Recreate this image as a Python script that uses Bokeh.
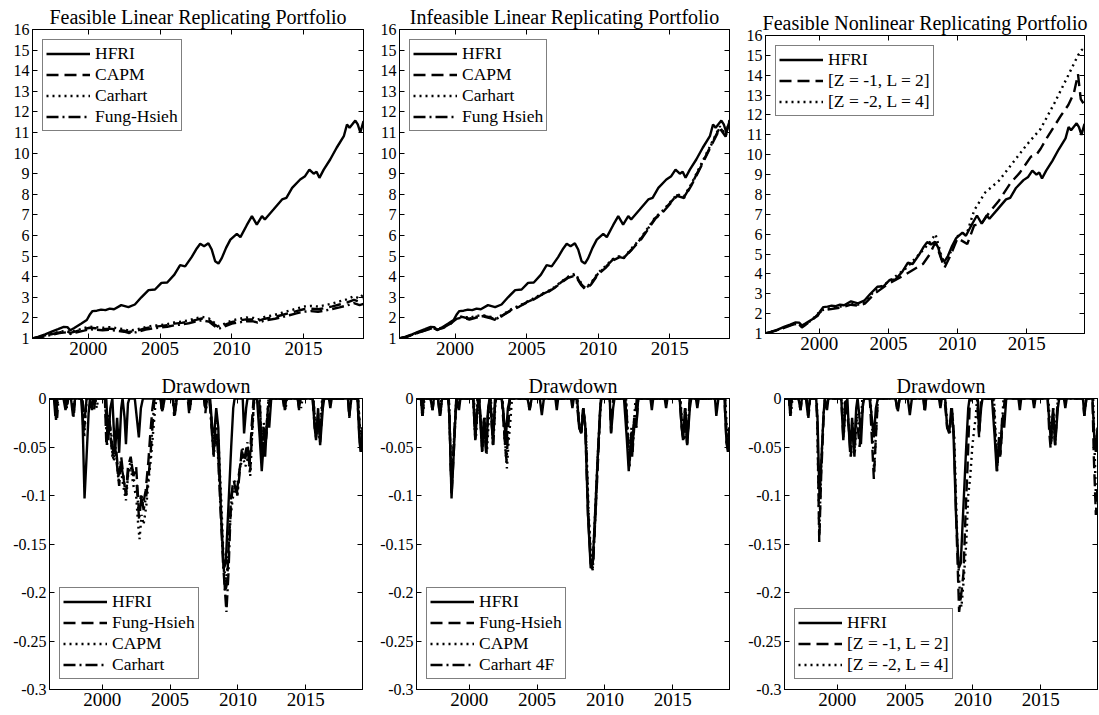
from bokeh.plotting import figure
from bokeh.models import Legend, LegendItem, LinearAxis, FixedTicker, Range1d
from bokeh.layouts import column, row
from bokeh.embed import file_html
from bokeh.resources import INLINE

FONT = "Liberation Serif"

# ---------------- time axis ----------------
X_START, X_END = 1996.12, 2019.17
YEAR_TICKS = [2000, 2005, 2010, 2015]
YEAR_LABELS = ["2000", "2005", "2010", "2015"]

# ---------------- cumulative value of $1 ----------------
HFRI_T = [1996.12, 1996.5, 1997.0, 1997.5, 1997.9, 1998.3, 1998.55, 1998.75, 1999.0, 1999.5,
          1999.9, 2000.1, 2000.3, 2000.6, 2000.9, 2001.2, 2001.5, 2001.8, 2002.3, 2002.8,
          2003.25, 2003.7, 2004.2, 2004.65, 2005.1, 2005.5, 2006.0, 2006.4, 2006.75, 2007.2,
          2007.56, 2007.8, 2008.07, 2008.37, 2008.6, 2008.84, 2009.07, 2009.3, 2009.6, 2009.9,
          2010.35, 2010.6, 2011.04, 2011.4, 2011.74, 2012.1, 2012.3, 2012.9, 2013.5, 2013.8,
          2014.2, 2014.76, 2015.1, 2015.4, 2015.7, 2015.9, 2016.1, 2016.4, 2016.85, 2017.3,
          2017.8, 2018.02, 2018.2, 2018.6, 2018.77, 2018.95, 2019.17]
HFRI_V = [1.0, 1.08, 1.2, 1.35, 1.45, 1.56, 1.55, 1.4, 1.5, 1.72,
          1.9, 2.15, 2.33, 2.35, 2.4, 2.38, 2.45, 2.42, 2.62, 2.52,
          2.65, 3.0, 3.35, 3.38, 3.7, 3.72, 4.1, 4.56, 4.5, 4.95,
          5.37, 5.6, 5.48, 5.62, 5.32, 4.75, 4.64, 4.9, 5.4, 5.8,
          6.08, 5.92, 6.5, 6.94, 6.53, 6.94, 6.78, 7.26, 7.75, 7.83,
          8.31, 8.72, 8.88, 9.2, 9.0, 9.1, 8.8, 9.2, 9.69, 10.26,
          10.82, 11.39, 11.23, 11.58, 11.39, 11.0, 11.55]

LIN_T = [1996.12, 1996.6, 1997.0, 1997.5, 1998.0, 1998.5, 1998.75, 1999.2, 1999.7, 2000.1,
         2000.5, 2001.0, 2001.5, 2002.0, 2002.5, 2002.8, 2003.3, 2004.0, 2004.5, 2005.0,
         2005.5, 2006.0, 2006.5, 2007.0, 2007.5, 2007.9, 2008.4, 2008.8, 2009.1, 2009.5,
         2010.0, 2010.5, 2011.0, 2011.5, 2011.8, 2012.3, 2013.0, 2013.5, 2014.0, 2014.5,
         2015.0, 2015.5, 2016.0, 2016.5, 2017.0, 2017.5, 2018.0, 2018.5, 2018.9, 2019.17]

# feasible linear replications
FEAS_CAPM = [1.0, 1.06, 1.13, 1.22, 1.3, 1.35, 1.27, 1.36, 1.45, 1.52,
             1.5, 1.45, 1.48, 1.43, 1.38, 1.32, 1.36, 1.5, 1.56, 1.6,
             1.64, 1.72, 1.76, 1.82, 1.9, 1.97, 1.9, 1.68, 1.55, 1.66,
             1.8, 1.87, 1.93, 1.92, 1.85, 1.96, 2.05, 2.14, 2.24, 2.33,
             2.42, 2.45, 2.42, 2.48, 2.56, 2.65, 2.74, 2.88, 2.78, 2.9]
FEAS_CARHART = [1.0, 1.07, 1.15, 1.25, 1.33, 1.38, 1.3, 1.4, 1.5, 1.58,
                1.55, 1.52, 1.55, 1.5, 1.45, 1.38, 1.42, 1.55, 1.62, 1.65,
                1.7, 1.78, 1.82, 1.88, 1.98, 2.05, 1.98, 1.75, 1.6, 1.72,
                1.88, 1.95, 2.02, 2.0, 1.92, 2.05, 2.15, 2.25, 2.35, 2.45,
                2.55, 2.58, 2.55, 2.62, 2.7, 2.8, 2.9, 3.05, 2.95, 3.15]
FEAS_FH = [1.0, 1.05, 1.11, 1.19, 1.26, 1.3, 1.22, 1.3, 1.38, 1.45,
           1.43, 1.4, 1.42, 1.38, 1.33, 1.27, 1.3, 1.43, 1.49, 1.53,
           1.57, 1.64, 1.68, 1.74, 1.82, 1.88, 1.82, 1.6, 1.48, 1.58,
           1.72, 1.78, 1.84, 1.83, 1.77, 1.87, 1.96, 2.04, 2.13, 2.22,
           2.3, 2.33, 2.3, 2.36, 2.43, 2.51, 2.6, 2.72, 2.62, 2.68]

# infeasible linear replications
INF_CAPM = [1.0, 1.08, 1.17, 1.3, 1.41, 1.5, 1.43, 1.52, 1.72, 1.95,
            2.02, 1.92, 2.02, 2.06, 1.98, 1.9, 2.1, 2.4, 2.55, 2.74,
            2.9, 3.1, 3.26, 3.48, 3.75, 3.95, 4.05, 3.6, 3.38, 3.62,
            4.12, 4.42, 4.78, 4.95, 4.9, 5.28, 5.82, 6.32, 6.82, 7.12,
            7.52, 7.92, 7.82, 8.42, 9.1, 9.8, 10.5, 11.2, 10.8, 11.5]
INF_CARHART = [1.0, 1.08, 1.18, 1.32, 1.42, 1.52, 1.45, 1.55, 1.75, 2.0,
               2.08, 2.0, 2.1, 2.12, 2.05, 1.95, 2.15, 2.45, 2.6, 2.78,
               2.95, 3.15, 3.3, 3.52, 3.8, 4.0, 4.15, 3.7, 3.45, 3.7,
               4.2, 4.5, 4.85, 5.0, 4.95, 5.35, 5.9, 6.4, 6.9, 7.2,
               7.6, 8.0, 7.9, 8.5, 9.2, 9.9, 10.6, 11.3, 10.9, 11.6]
INF_FH = [1.0, 1.08, 1.18, 1.31, 1.42, 1.51, 1.44, 1.53, 1.73, 1.97,
          2.05, 1.96, 2.06, 2.09, 2.02, 1.92, 2.12, 2.42, 2.57, 2.76,
          2.92, 3.12, 3.28, 3.5, 3.78, 3.98, 4.1, 3.65, 3.42, 3.66,
          4.16, 4.46, 4.82, 4.98, 4.92, 5.3, 5.86, 6.36, 6.86, 7.16,
          7.56, 7.96, 7.86, 8.46, 9.15, 9.85, 10.55, 11.25, 10.85, 11.55]

# nonlinear replications
Z1L2_T = [1996.12, 1997.0, 1998.0, 1998.5, 1998.75, 1999.5, 2000.1, 2000.6, 2001.5, 2002.3,
          2002.8, 2003.3, 2004.0, 2005.0, 2006.3, 2007.5, 2008.0, 2008.4, 2008.8, 2009.05,
          2009.5, 2010.0, 2010.7, 2011.2, 2011.7, 2012.3, 2013.0, 2013.8, 2014.5, 2015.3,
          2015.7, 2016.0, 2016.5, 2017.5, 2018.0, 2018.4, 2018.7, 2018.9, 2019.17]
Z1L2_V = [1.0, 1.17, 1.42, 1.52, 1.3, 1.68, 2.1, 2.2, 2.3, 2.45,
          2.4, 2.5, 3.0, 3.5, 4.0, 4.5, 5.0, 5.6, 4.8, 4.3,
          4.95, 5.8, 5.5, 6.45, 6.5, 7.1, 7.7, 8.55, 9.1, 9.9,
          10.0, 10.3, 10.9, 12.0, 12.5, 13.1, 14.05, 12.8, 12.5]
Z2L4_T = [1996.12, 1997.0, 1998.0, 1998.5, 1998.75, 1999.5, 2000.1, 2000.6, 2001.5, 2002.3,
          2002.8, 2003.3, 2004.0, 2005.0, 2006.3, 2007.5, 2008.0, 2008.4, 2008.8, 2009.05,
          2009.5, 2010.0, 2010.7, 2011.2, 2012.0, 2013.0, 2014.0, 2015.0, 2015.5, 2016.0,
          2017.0, 2018.0, 2018.7, 2019.0, 2019.17]
Z2L4_V = [1.0, 1.18, 1.43, 1.5, 1.32, 1.7, 2.15, 2.25, 2.35, 2.5,
          2.45, 2.6, 3.15, 3.6, 4.3, 5.2, 5.6, 6.0, 5.0, 4.5,
          5.1, 5.9, 6.1, 7.2, 8.1, 8.7, 9.6, 10.5, 10.9, 11.3,
          12.6, 14.0, 15.0, 15.3, 15.15]

# ---------------- drawdowns (date, drawdown) ----------------
DD_HFRI = [(1996.12, 0), (1996.45, 0), (1996.55, -0.018), (1996.65, 0), (1997.15, 0), (1997.3, -0.012),
           (1997.4, 0), (1997.7, 0), (1997.85, -0.018), (1998.0, 0), (1998.45, 0), (1998.55, -0.02),
           (1998.7, -0.103), (1998.85, -0.06), (1999.0, -0.015), (1999.1, 0), (1999.25, -0.012), (1999.35, 0),
           (2000.3, 0), (2000.45, -0.043), (2000.6, -0.01), (2000.75, 0), (2000.85, -0.03), (2000.95, -0.055),
           (2001.1, -0.02), (2001.25, -0.056), (2001.4, -0.01), (2001.5, 0), (2001.65, -0.02), (2001.75, -0.047),
           (2001.9, -0.005), (2002.0, 0), (2002.4, 0), (2002.55, -0.02), (2002.7, -0.04), (2002.85, -0.01),
           (2003.0, 0), (2004.3, 0), (2004.45, -0.012), (2004.6, 0), (2005.2, 0), (2005.35, -0.017),
           (2005.5, 0), (2006.35, 0), (2006.45, -0.012), (2006.55, 0), (2007.5, 0), (2007.6, -0.01),
           (2007.7, 0), (2007.95, 0), (2008.1, -0.03), (2008.25, -0.036), (2008.4, -0.01), (2008.55, -0.03),
           (2008.75, -0.12), (2008.95, -0.175), (2009.1, -0.17), (2009.3, -0.11), (2009.5, -0.05), (2009.65, -0.01),
           (2009.75, 0), (2010.35, 0), (2010.45, -0.036), (2010.6, -0.01), (2010.7, 0), (2011.4, 0),
           (2011.6, -0.04), (2011.75, -0.075), (2011.9, -0.045), (2012.0, -0.06), (2012.15, -0.02), (2012.3, -0.03),
           (2012.45, 0), (2013.35, 0), (2013.45, -0.012), (2013.55, 0), (2014.4, 0), (2014.5, -0.01),
           (2014.6, 0), (2015.5, 0), (2015.65, -0.03), (2015.75, -0.043), (2015.9, -0.01), (2016.05, -0.048),
           (2016.25, -0.01), (2016.35, 0), (2016.7, 0), (2016.8, -0.01), (2016.9, 0), (2018.1, 0),
           (2018.2, -0.018), (2018.35, 0), (2018.8, 0), (2018.95, -0.045), (2019.05, -0.055), (2019.17, -0.03)]

DD_FEAS_FH = [(1996.12, 0), (1996.5, 0), (1996.6, -0.022), (1996.7, 0), (1997.25, 0), (1997.35, -0.012),
              (1997.45, 0), (1997.8, 0), (1997.9, -0.02), (1998.0, 0), (1998.5, 0), (1998.62, -0.035),
              (1998.72, -0.02), (1998.85, 0), (1999.3, 0), (1999.4, -0.012), (1999.5, 0), (2000.2, 0),
              (2000.3, -0.045), (2000.45, -0.02), (2000.6, -0.035), (2000.75, -0.06), (2000.9, -0.045), (2001.1, -0.07),
              (2001.25, -0.09), (2001.4, -0.06), (2001.6, -0.085), (2001.75, -0.1), (2001.9, -0.07), (2002.1, -0.06),
              (2002.3, -0.08), (2002.5, -0.07), (2002.7, -0.115), (2002.85, -0.1), (2003.0, -0.11), (2003.2, -0.095),
              (2003.4, -0.065), (2003.55, -0.035), (2003.7, -0.01), (2003.8, 0), (2004.3, 0), (2004.4, -0.015),
              (2004.5, 0), (2005.2, 0), (2005.3, -0.018), (2005.45, 0), (2006.3, 0), (2006.4, -0.015),
              (2006.5, 0), (2007.5, 0), (2007.6, -0.015), (2007.7, 0), (2007.9, 0), (2008.05, -0.025),
              (2008.2, -0.058), (2008.35, -0.03), (2008.5, -0.045), (2008.7, -0.1), (2008.9, -0.16), (2009.05, -0.2),
              (2009.2, -0.19), (2009.35, -0.14), (2009.5, -0.1), (2009.7, -0.085), (2009.9, -0.1), (2010.05, -0.08),
              (2010.3, -0.055), (2010.5, -0.065), (2010.7, -0.05), (2010.85, -0.07), (2011.0, -0.03), (2011.15, 0),
              (2011.55, 0), (2011.7, -0.035), (2011.8, -0.06), (2011.9, -0.03), (2012.0, -0.05), (2012.2, -0.02),
              (2012.35, 0), (2013.3, 0), (2013.4, -0.01), (2013.5, 0), (2014.4, 0), (2014.5, -0.012),
              (2014.6, 0), (2015.5, 0), (2015.65, -0.03), (2015.75, -0.04), (2015.9, -0.015), (2016.05, -0.045),
              (2016.25, 0), (2018.1, 0), (2018.2, -0.02), (2018.3, 0), (2018.8, 0), (2018.95, -0.04),
              (2019.05, -0.055), (2019.17, -0.04)]

DD_FEAS_CAPM = [(1996.12, 0), (1996.55, 0), (1996.65, -0.015), (1996.75, 0), (1997.8, 0), (1997.9, -0.015),
                (1998.0, 0), (1998.55, 0), (1998.68, -0.04), (1998.85, 0), (1999.5, 0), (1999.6, -0.01),
                (1999.7, 0), (2000.2, 0), (2000.35, -0.04), (2000.5, -0.015), (2000.7, -0.05), (2000.85, -0.065),
                (2001.0, -0.05), (2001.2, -0.085), (2001.35, -0.07), (2001.55, -0.09), (2001.75, -0.105), (2001.9, -0.08),
                (2002.1, -0.07), (2002.3, -0.09), (2002.5, -0.1), (2002.65, -0.13), (2002.75, -0.145), (2002.9, -0.12),
                (2003.05, -0.13), (2003.25, -0.11), (2003.45, -0.08), (2003.6, -0.06), (2003.75, -0.035), (2003.9, -0.01),
                (2004.0, 0), (2004.35, 0), (2004.45, -0.012), (2004.55, 0), (2005.25, 0), (2005.35, -0.015),
                (2005.5, 0), (2007.55, 0), (2007.65, -0.012), (2007.75, 0), (2007.9, 0), (2008.1, -0.03),
                (2008.25, -0.05), (2008.4, -0.025), (2008.55, -0.04), (2008.75, -0.1), (2008.95, -0.17), (2009.1, -0.19),
                (2009.25, -0.17), (2009.4, -0.13), (2009.55, -0.11), (2009.75, -0.09), (2009.95, -0.1), (2010.1, -0.075),
                (2010.35, -0.06), (2010.55, -0.07), (2010.75, -0.06), (2010.9, -0.08), (2011.05, -0.035), (2011.2, 0),
                (2011.6, 0), (2011.75, -0.05), (2011.9, -0.025), (2012.05, -0.04), (2012.25, 0), (2013.4, 0),
                (2013.5, -0.012), (2013.6, 0), (2014.55, 0), (2014.65, -0.01), (2014.75, 0), (2015.55, 0),
                (2015.7, -0.025), (2015.85, -0.035), (2016.0, -0.04), (2016.2, 0), (2018.85, 0), (2019.0, -0.035),
                (2019.17, -0.03)]

DD_FEAS_CARHART = [(1996.12, 0), (1996.58, 0), (1996.68, -0.02), (1996.78, 0), (1997.3, 0), (1997.4, -0.01),
                   (1997.5, 0), (1998.55, 0), (1998.68, -0.03), (1998.85, 0), (2000.25, 0), (2000.35, -0.05),
                   (2000.5, -0.02), (2000.7, -0.04), (2000.85, -0.06), (2001.05, -0.055), (2001.2, -0.08), (2001.35, -0.065),
                   (2001.55, -0.08), (2001.75, -0.1), (2001.95, -0.07), (2002.15, -0.065), (2002.35, -0.085), (2002.55, -0.09),
                   (2002.72, -0.125), (2002.9, -0.1), (2003.05, -0.115), (2003.25, -0.1), (2003.45, -0.075), (2003.6, -0.05),
                   (2003.75, -0.02), (2003.85, 0), (2004.3, 0), (2004.4, -0.012), (2004.5, 0), (2006.35, 0),
                   (2006.45, -0.012), (2006.55, 0), (2007.9, 0), (2008.05, -0.03), (2008.22, -0.06), (2008.35, -0.035),
                   (2008.5, -0.05), (2008.7, -0.11), (2008.9, -0.17), (2009.05, -0.2), (2009.15, -0.22), (2009.3, -0.18),
                   (2009.45, -0.12), (2009.6, -0.09), (2009.8, -0.085), (2009.95, -0.1), (2010.1, -0.08), (2010.3, -0.05),
                   (2010.5, -0.06), (2010.7, -0.045), (2010.9, -0.075), (2011.05, -0.03), (2011.2, 0), (2011.6, 0),
                   (2011.75, -0.055), (2011.9, -0.03), (2012.05, -0.045), (2012.25, 0), (2015.55, 0), (2015.7, -0.03),
                   (2015.85, -0.04), (2016.05, -0.04), (2016.25, 0), (2018.85, 0), (2019.0, -0.04), (2019.1, -0.055),
                   (2019.17, -0.045)]

DD_INF_FH = [(1996.12, 0), (1996.45, 0), (1996.55, -0.018), (1996.65, 0), (1997.15, 0), (1997.3, -0.012),
             (1997.4, 0), (1997.7, 0), (1997.85, -0.018), (1998.0, 0), (1998.45, 0), (1998.55, -0.02),
             (1998.7, -0.1), (1998.85, -0.06), (1999.0, -0.015), (1999.1, 0), (2000.3, 0), (2000.45, -0.04),
             (2000.6, -0.01), (2000.75, 0), (2000.85, -0.025), (2000.95, -0.05), (2001.1, -0.02), (2001.25, -0.055),
             (2001.4, -0.01), (2001.55, 0), (2001.65, -0.02), (2001.75, -0.048), (2001.9, -0.005), (2002.0, 0),
             (2002.4, 0), (2002.55, -0.03), (2002.72, -0.06), (2002.85, -0.02), (2003.0, 0), (2004.3, 0),
             (2004.45, -0.012), (2004.6, 0), (2007.9, 0), (2008.1, -0.03), (2008.25, -0.035), (2008.4, -0.01),
             (2008.55, -0.03), (2008.75, -0.12), (2008.95, -0.17), (2009.1, -0.175), (2009.3, -0.12), (2009.5, -0.06),
             (2009.65, -0.01), (2009.75, 0), (2010.35, 0), (2010.45, -0.035), (2010.6, 0), (2011.5, 0),
             (2011.65, -0.04), (2011.78, -0.07), (2011.9, -0.04), (2012.0, -0.055), (2012.15, -0.02), (2012.3, -0.03),
             (2012.45, 0), (2015.5, 0), (2015.65, -0.03), (2015.75, -0.04), (2015.9, -0.01), (2016.05, -0.046),
             (2016.25, 0), (2018.8, 0), (2018.95, -0.045), (2019.05, -0.052), (2019.17, -0.03)]

DD_INF_CAPM = [(1996.12, 0), (1996.5, 0), (1996.6, -0.015), (1996.7, 0), (1997.8, 0), (1997.9, -0.015),
               (1998.0, 0), (1998.5, 0), (1998.7, -0.09), (1998.85, -0.05), (1999.05, 0), (2000.35, 0),
               (2000.5, -0.04), (2000.65, 0), (2000.85, -0.02), (2001.0, -0.05), (2001.15, -0.02), (2001.3, -0.057),
               (2001.45, -0.02), (2001.6, 0), (2001.7, -0.03), (2001.8, -0.04), (2001.95, 0), (2002.45, 0),
               (2002.6, -0.04), (2002.78, -0.072), (2002.9, -0.045), (2003.05, -0.02), (2003.15, 0), (2007.95, 0),
               (2008.1, -0.025), (2008.25, -0.035), (2008.4, -0.01), (2008.6, -0.035), (2008.8, -0.12), (2009.0, -0.17),
               (2009.12, -0.165), (2009.3, -0.11), (2009.5, -0.05), (2009.7, 0), (2011.55, 0), (2011.7, -0.04),
               (2011.8, -0.065), (2011.95, -0.03), (2012.05, -0.045), (2012.25, 0), (2015.55, 0), (2015.7, -0.03),
               (2015.85, -0.04), (2016.05, -0.04), (2016.25, 0), (2018.85, 0), (2019.0, -0.04), (2019.17, -0.035)]

DD_INF_CARHART = [(1996.12, 0), (1996.48, 0), (1996.57, -0.018), (1996.67, 0), (1997.75, 0), (1997.85, -0.016),
                  (1997.95, 0), (1998.5, 0), (1998.7, -0.095), (1998.85, -0.05), (1999.05, 0), (2000.3, 0),
                  (2000.45, -0.042), (2000.6, 0), (2000.85, -0.025), (2000.97, -0.054), (2001.1, -0.02), (2001.27, -0.055),
                  (2001.4, -0.01), (2001.55, 0), (2001.65, -0.025), (2001.77, -0.048), (2001.9, 0), (2002.45, 0),
                  (2002.6, -0.035), (2002.75, -0.065), (2002.88, -0.03), (2003.0, 0), (2007.95, 0), (2008.1, -0.028),
                  (2008.25, -0.036), (2008.4, -0.01), (2008.58, -0.03), (2008.78, -0.12), (2008.98, -0.172), (2009.1, -0.177),
                  (2009.3, -0.12), (2009.5, -0.055), (2009.7, 0), (2011.55, 0), (2011.7, -0.045), (2011.8, -0.072),
                  (2011.93, -0.035), (2012.03, -0.055), (2012.2, -0.02), (2012.35, 0), (2015.55, 0), (2015.68, -0.032),
                  (2015.8, -0.042), (2015.92, -0.01), (2016.05, -0.047), (2016.25, 0), (2018.85, 0), (2018.98, -0.045),
                  (2019.07, -0.05), (2019.17, -0.03)]

DD_Z1L2 = [(1996.12, 0), (1996.45, 0), (1996.55, -0.018), (1996.65, 0), (1997.15, 0), (1997.3, -0.012),
           (1997.4, 0), (1997.75, 0), (1997.88, -0.02), (1998.0, 0), (1998.45, 0), (1998.55, -0.03),
           (1998.68, -0.148), (1998.82, -0.08), (1999.0, -0.02), (1999.1, 0), (2000.3, 0), (2000.45, -0.04),
           (2000.6, 0), (2000.85, -0.03), (2001.0, -0.06), (2001.12, -0.03), (2001.27, -0.06), (2001.4, -0.02),
           (2001.55, -0.035), (2001.65, -0.05), (2001.8, -0.02), (2001.95, 0), (2002.4, 0), (2002.55, -0.04),
           (2002.7, -0.083), (2002.85, -0.04), (2003.0, 0), (2004.3, 0), (2004.45, -0.015), (2004.6, 0),
           (2006.35, 0), (2006.45, -0.015), (2006.55, 0), (2007.9, 0), (2008.1, -0.03), (2008.3, -0.035),
           (2008.45, -0.01), (2008.6, -0.04), (2008.8, -0.14), (2008.98, -0.22), (2009.15, -0.2), (2009.3, -0.18),
           (2009.45, -0.12), (2009.6, -0.07), (2009.75, -0.01), (2009.85, 0), (2010.3, 0), (2010.45, -0.04),
           (2010.6, 0), (2011.5, 0), (2011.65, -0.04), (2011.78, -0.075), (2011.92, -0.04), (2012.02, -0.058),
           (2012.2, -0.02), (2012.35, 0), (2015.5, 0), (2015.62, -0.035), (2015.72, -0.052), (2015.88, -0.015),
           (2016.05, -0.048), (2016.25, 0), (2018.1, 0), (2018.2, -0.018), (2018.35, 0), (2018.8, 0),
           (2018.9, -0.06), (2019.05, -0.12), (2019.17, -0.09)]

DD_Z2L4 = [(1996.12, 0), (1996.5, 0), (1996.6, -0.015), (1996.7, 0), (1997.8, 0), (1997.9, -0.015),
           (1998.0, 0), (1998.5, 0), (1998.68, -0.14), (1998.82, -0.07), (1999.0, -0.015), (1999.1, 0),
           (2000.35, 0), (2000.5, -0.035), (2000.65, 0), (2000.88, -0.03), (2001.02, -0.06), (2001.15, -0.025),
           (2001.3, -0.055), (2001.45, -0.015), (2001.6, -0.03), (2001.7, -0.045), (2001.85, 0), (2002.45, 0),
           (2002.6, -0.035), (2002.72, -0.075), (2002.87, -0.03), (2003.0, 0), (2007.95, 0), (2008.1, -0.025),
           (2008.3, -0.035), (2008.45, -0.01), (2008.62, -0.04), (2008.85, -0.15), (2009.05, -0.205), (2009.15, -0.215),
           (2009.3, -0.19), (2009.5, -0.15), (2009.65, -0.1), (2009.8, -0.08), (2009.95, -0.05), (2010.1, -0.03),
           (2010.2, -0.02), (2010.3, 0), (2011.55, 0), (2011.68, -0.04), (2011.8, -0.07), (2011.95, -0.035),
           (2012.05, -0.05), (2012.25, 0), (2015.55, 0), (2015.68, -0.03), (2015.78, -0.045), (2015.92, -0.01),
           (2016.05, -0.045), (2016.25, 0), (2018.85, 0), (2018.95, -0.05), (2019.05, -0.1), (2019.17, -0.1)]

# ---------------- tick labels ----------------
CUM_TICKS = list(range(1, 17))
CUM_LABELS = [str(v) for v in CUM_TICKS]
DD_TICKS = [0, -0.05, -0.1, -0.15, -0.2, -0.25, -0.3]
DD_LABELS = ["0", "-0.05", "-0.1", "-0.15", "-0.2", "-0.25", "-0.3"]

# ---------------- line styles ----------------
SOLID = "solid"
DASHED = "12 6"
DOTTED = "2 4"
DASHDOT = "12 4 2 4"
LW = 2.4


def panel(title, y0, y1, yticks, ylabels, fw, fh, bl, br, bt, bb):
    p = figure(frame_width=fw, frame_height=fh,
               x_range=Range1d(X_START, X_END), y_range=Range1d(y0, y1),
               output_backend="svg", toolbar_location=None,
               min_border_left=bl, min_border_right=br, min_border_top=bt, min_border_bottom=bb,
               background_fill_color="white", border_fill_color="white")
    p.xgrid.visible = False
    p.ygrid.visible = False
    p.outline_line_color = "black"
    p.outline_line_width = 1
    for ax, tks, labels, size in ((p.xaxis[0], YEAR_TICKS, YEAR_LABELS, "19px"),
                                  (p.yaxis[0], yticks, ylabels, "16px")):
        ax.ticker = FixedTicker(ticks=tks)
        ax.major_label_overrides = dict(zip(tks, labels))
        ax.major_label_text_font = FONT
        ax.major_label_text_font_size = size
        ax.major_label_text_color = "black"
        ax.major_tick_in = 5
        ax.major_tick_out = 0
        ax.minor_tick_line_color = None
        ax.axis_line_color = "black"
        ax.major_label_standoff = 3
    # right side: tick marks only
    right = LinearAxis(ticker=FixedTicker(ticks=yticks), major_label_text_font_size="1px",
                       major_label_text_color=None, major_label_standoff=0,
                       major_tick_in=5, major_tick_out=0,
                       minor_tick_line_color=None, axis_line_color="black")
    p.add_layout(right, "right")
    # top side: tick marks, with the panel title as the axis label
    top = LinearAxis(ticker=FixedTicker(ticks=YEAR_TICKS), major_label_text_font_size="1px",
                     major_label_text_color=None, major_label_standoff=0,
                     major_tick_in=5, major_tick_out=0,
                     minor_tick_line_color=None, axis_line_color="black",
                     axis_label=title, axis_label_text_font=FONT,
                     axis_label_text_font_size="20px", axis_label_text_font_style="normal",
                     axis_label_text_color="black", axis_label_standoff=2)
    p.add_layout(top, "above")
    return p


def add_lines(p, series, location):
    items = []
    for label, xs, ys, dash in series:
        r = p.line(xs, ys, line_color="black", line_width=LW, line_dash=dash)
        items.append(LegendItem(label=label, renderers=[r]))
    leg = Legend(items=items, location=location)
    leg.label_text_font = FONT
    leg.label_text_font_size = "17.5px"
    leg.label_text_color = "black"
    leg.glyph_width = 44
    leg.glyph_height = 19
    leg.label_height = 19
    leg.label_standoff = 5
    leg.spacing = 0
    leg.padding = 3
    leg.margin = 10
    leg.border_line_color = "black"
    leg.border_line_width = 1
    leg.background_fill_color = "white"
    leg.background_fill_alpha = 1
    p.add_layout(leg)


def unzip(pairs):
    return [a for a, _ in pairs], [b for _, b in pairs]


# ---------------- top row ----------------
p1 = panel("Feasible Linear Replicating Portfolio", 1, 16, CUM_TICKS, CUM_LABELS, 331, 309, 32, 3, 29, 22)
add_lines(p1, [("HFRI", HFRI_T, HFRI_V, SOLID),
               ("CAPM", LIN_T, FEAS_CAPM, DASHED),
               ("Carhart", LIN_T, FEAS_CARHART, DOTTED),
               ("Fung-Hsieh", LIN_T, FEAS_FH, DASHDOT)], "top_left")

p2 = panel("Infeasible Linear Replicating Portfolio", 1, 16, CUM_TICKS, CUM_LABELS, 330, 309, 33, 4, 29, 22)
add_lines(p2, [("HFRI", HFRI_T, HFRI_V, SOLID),
               ("CAPM", LIN_T, INF_CAPM, DASHED),
               ("Carhart", LIN_T, INF_CARHART, DOTTED),
               ("Fung Hsieh", LIN_T, INF_FH, DASHDOT)], "top_left")

p3 = panel("Feasible Nonlinear Replicating Portfolio", 1, 16, CUM_TICKS, CUM_LABELS, 319, 298, 32, 15, 35, 27)
add_lines(p3, [("HFRI", HFRI_T, HFRI_V, SOLID),
               ("[Z = -1, L = 2]", Z1L2_T, Z1L2_V, DASHED),
               ("[Z = -2, L = 4]", Z2L4_T, Z2L4_V, DOTTED)], "top_left")

# ---------------- bottom row ----------------
hx, hy = unzip(DD_HFRI)

p4 = panel("Drawdown", -0.3, 0, DD_TICKS, DD_LABELS, 313, 291, 49, 4, 38, 26)
add_lines(p4, [("HFRI", hx, hy, SOLID),
               ("Fung-Hsieh", *unzip(DD_FEAS_FH), DASHED),
               ("CAPM", *unzip(DD_FEAS_CAPM), DOTTED),
               ("Carhart", *unzip(DD_FEAS_CARHART), DASHDOT)], "bottom_left")

p5 = panel("Drawdown", -0.3, 0, DD_TICKS, DD_LABELS, 313, 291, 50, 4, 38, 26)
add_lines(p5, [("HFRI", hx, hy, SOLID),
               ("Fung-Hsieh", *unzip(DD_INF_FH), DASHED),
               ("CAPM", *unzip(DD_INF_CAPM), DOTTED),
               ("Carhart 4F", *unzip(DD_INF_CARHART), DASHDOT)], "bottom_left")

p6 = panel("Drawdown", -0.3, 0, DD_TICKS, DD_LABELS, 313, 291, 51, 2, 38, 26)
add_lines(p6, [("HFRI", hx, hy, SOLID),
               ("[Z = -1, L = 2]", *unzip(DD_Z1L2), DASHED),
               ("[Z = -2, L = 4]", *unzip(DD_Z2L4), DOTTED)], "bottom_left")

# each panel sits in its own column so that rows do not line up their borders
top_row = row(column(p1), column(p2), column(p3), spacing=0)
bottom_row = row(column(p4), column(p5), column(p6), spacing=0)
layout = column(top_row, bottom_row, spacing=0)

with open("out.html", "w") as f:
    f.write(file_html(layout, INLINE, title="Replicating portfolios"))
